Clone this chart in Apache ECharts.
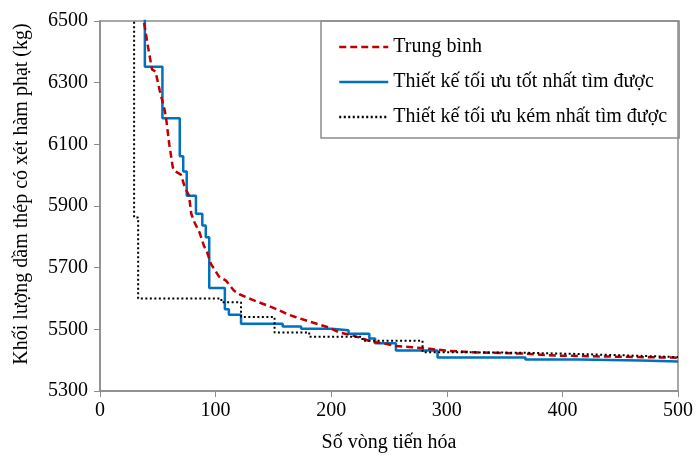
<!DOCTYPE html>
<html>
<head>
<meta charset="utf-8">
<script src="https://cdn.jsdelivr.net/npm/echarts@6/dist/echarts.min.js"></script>
<style>
html, body { margin: 0; padding: 0; background: #fff; }
#chart_ga { width: 696px; height: 458px; }
</style>
</head>
<body>
<div id="chart_ga"></div>
<script>
// số liệu: [vòng tiến hóa, khối lượng (kg)]
var seriesNames = ['Trung bình', 'Thiết kế tối ưu tốt nhất tìm được', 'Thiết kế tối ưu kém nhất tìm được'];

var meanCurve = [
    [35, 6600], [37, 6520], [41.7, 6413], [45, 6343], [48, 6336], [51.7, 6274], [56, 6210],
    [57.5, 6175], [60, 6098], [63, 6025], [64.7, 6013], [70, 6002], [73, 5965], [77, 5933],
    [79, 5874], [82, 5845], [86, 5815], [90, 5770], [92, 5757], [96, 5712], [98, 5700],
    [103, 5671], [109, 5658], [116, 5625], [121, 5613], [131, 5597], [145, 5577], [155, 5562],
    [162, 5549], [169, 5540], [184, 5522], [198, 5506], [207, 5490], [213, 5485], [224, 5474],
    [235, 5460], [247, 5453], [256, 5446], [270, 5442], [285, 5437], [299, 5431], [320, 5426],
    [368, 5421], [394, 5415], [434, 5412], [500, 5408]
];

// các đường bậc thang: giá trị giữ nguyên đến điểm kế tiếp
var bestCurve = [
    [0, 7000], [38.8, 6352], [54, 6185], [69, 6061], [72, 6012], [75, 5933], [83, 5875],
    [88.5, 5837], [91.5, 5799], [94.5, 5634], [108, 5565], [111.5, 5547], [122, 5518],
    [158, 5509], [174, 5502], [200, 5497], [215, 5486], [233, 5470], [238, 5455], [256, 5431],
    [292, 5409], [368, 5402], [414, 5399], [468, 5396], [500, 5396]
];

var worstCurve = [
    [0, 7000], [29.5, 5863], [33, 5600], [105, 5588], [122, 5540], [151, 5490], [181, 5476],
    [227, 5463], [279, 5426], [300, 5424], [368, 5420], [414, 5414], [468, 5410], [500, 5410]
];

var serifFont = "'Liberation Serif', 'Times New Roman', serif";

var chart_ga = echarts.init(document.getElementById('chart_ga'));
var option_ga = {
    animation: false,
    textStyle: { fontFamily: serifFont, color: '#000' },
    grid: {
        left: 100, right: 16, top: 21, bottom: 62,
        show: true,
        borderColor: '#8c8c8c',
        borderWidth: 1.5
    },
    legend: {
        data: seriesNames,
        orient: 'vertical',
        left: 321, top: 21,
        padding: [16, 12, 11, 17],
        itemWidth: 49,
        itemHeight: 20,
        itemGap: 15,
        itemStyle: { opacity: 0 },
        lineStyle: { width: 2.5 },
        borderColor: '#8c8c8c',
        borderWidth: 1.5,
        textStyle: { fontFamily: serifFont, fontSize: 20, color: '#000', lineHeight: 20 }
    },
    xAxis: {
        type: 'value',
        min: 0, max: 500, interval: 100,
        name: 'Số vòng tiến hóa',
        nameLocation: 'middle',
        nameGap: 42,
        nameTextStyle: { fontFamily: serifFont, fontSize: 20, color: '#000' },
        splitLine: { show: false },
        axisLine: { lineStyle: { color: '#8c8c8c', width: 1.5 } },
        axisTick: { length: 6, lineStyle: { color: '#8c8c8c' } },
        axisLabel: { margin: 10, fontFamily: serifFont, fontSize: 20, color: '#000' }
    },
    yAxis: {
        type: 'value',
        min: 5300, max: 6500, interval: 200,
        name: 'Khối lượng dầm thép có xét hàm phạt (kg)',
        nameLocation: 'middle',
        nameGap: 68,
        nameTextStyle: { fontFamily: serifFont, fontSize: 20, color: '#000', padding: [0, 0, 0, 24] },
        splitLine: { show: false },
        axisLine: { show: true, lineStyle: { color: '#8c8c8c', width: 1.5 } },
        axisTick: { show: true, length: 6, lineStyle: { color: '#8c8c8c' } },
        axisLabel: {
            margin: 12, fontFamily: serifFont, fontSize: 20, color: '#000',
            formatter: function (v) { return String(v); }
        }
    },
    series: [
        {
            name: seriesNames[1],
            type: 'line',
            step: 'end',
            symbol: 'none',
            data: bestCurve,
            lineStyle: { color: '#0070c0', width: 2.5 },
            itemStyle: { color: '#0070c0' }
        },
        {
            name: seriesNames[0],
            type: 'line',
            symbol: 'none',
            data: meanCurve,
            lineStyle: { color: '#c00000', width: 2.5, type: [7, 4] },
            itemStyle: { color: '#c00000' }
        },
        {
            name: seriesNames[2],
            type: 'line',
            step: 'end',
            symbol: 'none',
            data: worstCurve,
            lineStyle: { color: '#000', width: 2, type: [2, 2.5] },
            itemStyle: { color: '#000' }
        }
    ]
};
chart_ga.setOption(option_ga);
</script>
</body>
</html>
